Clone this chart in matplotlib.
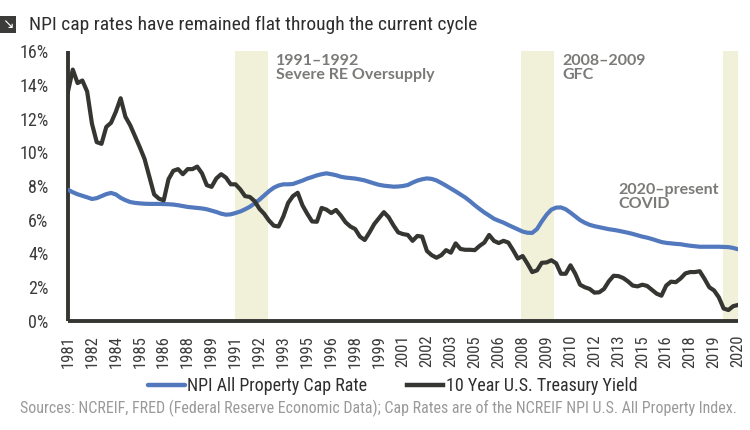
import matplotlib
matplotlib.use("Agg")
import matplotlib.pyplot as plt
from matplotlib import font_manager
from matplotlib.patches import Rectangle

# ---------------- data ----------------
tick_labels = ["1981", "1982", "1984", "1985", "1986", "1988", "1989", "1991", "1992",
               "1993", "1995", "1996", "1998", "1999", "2001", "2002", "2003", "2005",
               "2006", "2008", "2009", "2010", "2012", "2013", "2015", "2016", "2018",
               "2019", "2020"]
points_per_label = 5

cap_rate = [7.78, 7.63, 7.51, 7.42, 7.33, 7.23, 7.28, 7.40, 7.52, 7.59,
            7.50, 7.30, 7.16, 7.05, 7.00, 6.97, 6.95, 6.94, 6.94, 6.94,
            6.93, 6.92, 6.90, 6.86, 6.81, 6.76, 6.73, 6.70, 6.67, 6.62,
            6.54, 6.46, 6.36, 6.30, 6.32, 6.40, 6.49, 6.62, 6.77, 6.97,
            7.19, 7.44, 7.69, 7.90, 8.03, 8.10, 8.10, 8.12, 8.22, 8.32,
            8.44, 8.53, 8.63, 8.70, 8.75, 8.70, 8.64, 8.55, 8.50, 8.47,
            8.44, 8.39, 8.33, 8.24, 8.15, 8.07, 8.02, 7.99, 7.96, 7.97,
            8.00, 8.06, 8.20, 8.32, 8.40, 8.45, 8.42, 8.33, 8.18, 8.02,
            7.85, 7.68, 7.50, 7.32, 7.10, 6.86, 6.64, 6.43, 6.25, 6.06,
            5.94, 5.83, 5.69, 5.56, 5.43, 5.30, 5.23, 5.22, 5.45, 5.90,
            6.30, 6.60, 6.72, 6.73, 6.62, 6.42, 6.20, 5.98, 5.82, 5.70,
            5.62, 5.56, 5.50, 5.44, 5.40, 5.35, 5.29, 5.23, 5.16, 5.08,
            5.00, 4.94, 4.86, 4.77, 4.68, 4.63, 4.60, 4.57, 4.55, 4.50,
            4.46, 4.43, 4.40, 4.40, 4.40, 4.40, 4.40, 4.39, 4.38, 4.33,
            4.25]

treasury = [13.60, 14.90, 14.10, 14.25, 13.60, 11.70, 10.60, 10.50, 11.50, 11.75,
            12.40, 13.20, 12.10, 11.60, 10.95, 10.30, 9.60, 8.55, 7.50, 7.25,
            7.15, 8.40, 8.90, 9.00, 8.70, 9.00, 9.00, 9.15, 8.75, 8.05,
            7.95, 8.45, 8.70, 8.50, 8.10, 8.10, 7.80, 7.40, 7.35, 7.10,
            6.65, 6.35, 5.95, 5.65, 5.60, 6.20, 7.00, 7.40, 7.60, 6.85,
            6.35, 5.90, 5.88, 6.70, 6.60, 6.40, 6.58, 6.25, 5.85, 5.60,
            5.45, 5.00, 4.80, 5.25, 5.75, 6.10, 6.45, 6.15, 5.67, 5.25,
            5.15, 5.10, 4.75, 5.04, 5.00, 4.15, 3.90, 3.75, 3.90, 4.20,
            4.05, 4.60, 4.27, 4.22, 4.22, 4.20, 4.45, 4.65, 5.10, 4.75,
            4.62, 4.75, 4.65, 4.20, 3.70, 3.85, 3.40, 2.90, 3.00, 3.45,
            3.47, 3.60, 3.42, 2.80, 2.80, 3.30, 2.80, 2.15, 2.00, 1.90,
            1.68, 1.70, 1.90, 2.35, 2.68, 2.66, 2.55, 2.35, 2.10, 2.05,
            2.15, 2.08, 1.85, 1.62, 1.50, 2.10, 2.33, 2.30, 2.52, 2.82,
            2.90, 2.90, 2.95, 2.50, 2.00, 1.81, 1.40, 0.74, 0.65, 0.88,
            0.95]

# crisis periods as positions on the index axis
shaded_periods = [(34.9, 41.8), (94.65, 101.5), (136.9, 140.3)]
period_labels = ["1991\u20131992\nSevere RE Oversupply", "2008\u20132009\nGFC",
                 "2020\u2013present\nCOVID"]
period_label_pos = [(43.5, 15.85), (103.3, 15.85), (115.0, 8.2)]

series_names = ["NPI All Property Cap Rate", "10 Year U.S. Treasury Yield"]
title = "NPI cap rates have remained flat through the current cycle"
source = ("Sources: NCREIF, FRED (Federal Reserve Economic Data); Cap Rates are of "
          "the NCREIF NPI U.S. All Property Index.")

# ---------------- fonts ----------------
available = {f.name for f in font_manager.fontManager.ttflist}
def pick(*names):
    for n in names:
        if n in available:
            return n
    return "DejaVu Sans"

narrow = pick("Liberation Sans Narrow", "Roboto Condensed", "Roboto", "Lato")
bold_font = pick("Lato", "Open Sans", "Roboto")
plt.rcParams["font.family"] = [narrow, "DejaVu Sans"]

blue = "#5278bd"
dark = "#353532"
shade = "#f1f1da"
grey_txt = "#7a7a78"

W, H = 750, 430
fig = plt.figure(figsize=(W / 100, H / 100), dpi=100)
ax = fig.add_axes([68 / W, 1 - 321 / H, (738 - 68) / W, (321 - 51) / H])

x = list(range(len(treasury)))
for (a, b) in shaded_periods:
    ax.axvspan(a, b, color=shade, lw=0, zorder=0)

l1, = ax.plot(x, cap_rate, color=blue, lw=3.0, solid_capstyle="round", zorder=3,
              label=series_names[0])
l2, = ax.plot(x, treasury, color=dark, lw=3.0, zorder=4, label=series_names[1])

for txt, (px, py) in zip(period_labels, period_label_pos):
    ax.text(px, py, txt, ha="left", va="top", fontsize=11.5, color=grey_txt,
            family=[bold_font, "DejaVu Sans"], fontweight="bold", linespacing=1.05,
            zorder=5)

ax.set_xlim(0, len(treasury) - 1)
ax.set_ylim(0, 16)
ax.set_yticks(range(0, 17, 2))
ax.set_yticklabels([f"{v}%" for v in range(0, 17, 2)])
ax.set_xticks([i * points_per_label for i in range(len(tick_labels))])
ax.set_xticklabels(tick_labels, rotation=90)
ax.tick_params(axis="both", length=0, colors="#3c3c3c")
ax.tick_params(axis="y", labelsize=13, pad=14)
ax.tick_params(axis="x", labelsize=12, pad=10)
for s in ["top", "right"]:
    ax.spines[s].set_visible(False)
for s in ["left", "bottom"]:
    ax.spines[s].set_color(dark)
    ax.spines[s].set_linewidth(2.8)
    ax.spines[s].set_capstyle("butt")
ax.set_facecolor("white")

# title with icon
fig.patches.append(Rectangle((0, 1 - 33 / H), 16 / W, 17 / H, transform=fig.transFigure,
                             facecolor="#3b3b39", edgecolor="none"))
fig.text(8 / W, 1 - 24.5 / H, "\u2198", color="white", fontsize=10, ha="center",
         va="center", family="DejaVu Sans")
fig.text(29 / W, 1 - 24.5 / H, title, fontsize=14, color="#2e2e2e", ha="left",
         va="center")

leg = fig.legend(handles=[l1, l2], loc="center", bbox_to_anchor=(393 / W, 1 - 386 / H),
                 ncol=2, frameon=False, fontsize=13, handlelength=2.0,
                 handletextpad=0.15, columnspacing=2.2)
for t in leg.get_texts():
    t.set_color("#2e2e2e")
for h in leg.legend_handles:
    h.set_linewidth(3.2)

fig.text(20 / W, 1 - 408 / H, source, fontsize=11.5, color="#9a9a9a", ha="left",
         va="center")

fig.savefig("out.png", dpi=100, facecolor="white")
